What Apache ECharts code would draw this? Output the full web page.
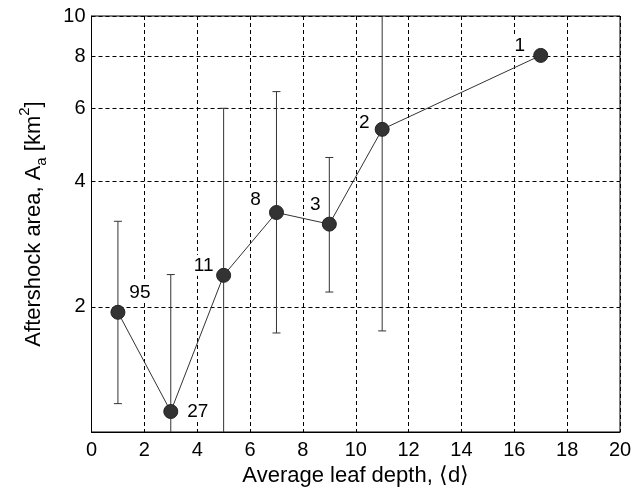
<!DOCTYPE html>
<html>
<head>
<meta charset="utf-8">
<script src="https://cdn.jsdelivr.net/npm/echarts@6/dist/echarts.min.js"></script>
<style>html,body{margin:0;padding:0;background:#fff;}#c{width:636px;height:493px;}</style>
</head>
<body>
<div id="c"></div>
<script>
// Data
var depth = [1, 3, 5, 7, 9, 11, 17];
var area = [1.94, 1.12, 2.38, 3.37, 3.16, 5.34, 8.04];
var errLow = [1.17, 0.9, 0.9, 1.73, 2.17, 1.75, null];
var errHigh = [3.21, 2.39, 6.0, 6.58, 4.57, 12, null];
var counts = [95, 27, 11, 8, 3, 2, 1];
var xTicks = [0, 2, 4, 6, 8, 10, 12, 14, 16, 18, 20];
var yTicks = [2, 4, 6, 8, 10];

// label offsets (styling)
var labelOffsets = [[22, -20], [27, 0], [-20, -10], [-21, -13], [-14, -19], [-18, -7], [-21, -10]];

var FONT = '"Liberation Sans", Arial, sans-serif';
var chart = echarts.init(document.getElementById('c'), null, {renderer: 'canvas'});

var lineData = depth.map(function (d, i) {
  return {
    value: [d, area[i]],
    label: {offset: labelOffsets[i]}
  };
});
var errData = depth.map(function (d, i) {
  return [d, errLow[i], errHigh[i]];
}).filter(function (r) { return r[1] != null; });

chart.setOption({
  animation: false,
  backgroundColor: '#fff',
  grid: {left: 91.5, right: 16, top: 16, bottom: 61, show: true, borderColor: '#000', borderWidth: 1, containLabel: false},
  xAxis: {
    type: 'value', min: 0, max: 20, interval: 2,
    axisLine: {show: true, onZero: false, lineStyle: {color: '#000', width: 1}},
    axisTick: {show: false},
    axisLabel: {color: '#000', fontSize: 20, fontFamily: FONT, margin: 8},
    splitLine: {show: true, lineStyle: {color: '#000', type: [4, 3], width: 1}},
    name: 'Average leaf depth, \u27e8d\u27e9',
    nameLocation: 'middle', nameGap: 31,
    nameTextStyle: {color: '#000', fontSize: 22, fontFamily: FONT}
  },
  yAxis: {
    type: 'log', logBase: 10, min: 1, max: 10,
    axisLine: {show: true, onZero: false, lineStyle: {color: '#000', width: 1}},
    axisTick: {show: false, customValues: yTicks},
    axisLabel: {color: '#000', fontSize: 20, fontFamily: FONT, margin: 6, customValues: yTicks},
    splitLine: {show: true, lineStyle: {color: '#000', type: [4, 3], width: 1}},
    name: 'Aftershock area, A{sub|a} [km{sup|2}]',
    nameLocation: 'middle', nameGap: 42, nameRotate: 90,
    nameTextStyle: {
      color: '#000', fontSize: 22, fontFamily: FONT, lineHeight: 32,
      rich: {
        sub: {fontSize: 15, fontFamily: FONT, color: '#000', verticalAlign: 'bottom', lineHeight: 15},
        sup: {fontSize: 15, fontFamily: FONT, color: '#000', verticalAlign: 'top', lineHeight: 15}
      }
    }
  },
  series: [
    {
      type: 'custom',
      clip: true,
      z: 2,
      data: errData,
      encode: {x: 0, y: [1, 2]},
      renderItem: function (params, api) {
        var x = api.value(0);
        var lo = api.coord([x, api.value(1)]);
        var hi = api.coord([x, api.value(2)]);
        var hw = 4;
        var st = {stroke: '#333', lineWidth: 1};
        return {
          type: 'group',
          children: [
            {type: 'line', shape: {x1: lo[0], y1: lo[1], x2: hi[0], y2: hi[1]}, style: st},
            {type: 'line', shape: {x1: lo[0] - hw, y1: lo[1], x2: lo[0] + hw, y2: lo[1]}, style: st},
            {type: 'line', shape: {x1: hi[0] - hw, y1: hi[1], x2: hi[0] + hw, y2: hi[1]}, style: st}
          ]
        };
      }
    },
    {
      type: 'line',
      z: 3,
      data: lineData,
      symbol: 'circle',
      symbolSize: 14,
      itemStyle: {color: '#333', borderColor: '#222', borderWidth: 1},
      lineStyle: {color: '#333', width: 1},
      label: {
        show: true, position: 'inside', color: '#000', fontSize: 19, fontFamily: FONT,
        backgroundColor: '#fff', padding: [1, 1],
        formatter: function (p) { return String(counts[p.dataIndex]); }
      }
    }
  ]
});
</script>
</body>
</html>
